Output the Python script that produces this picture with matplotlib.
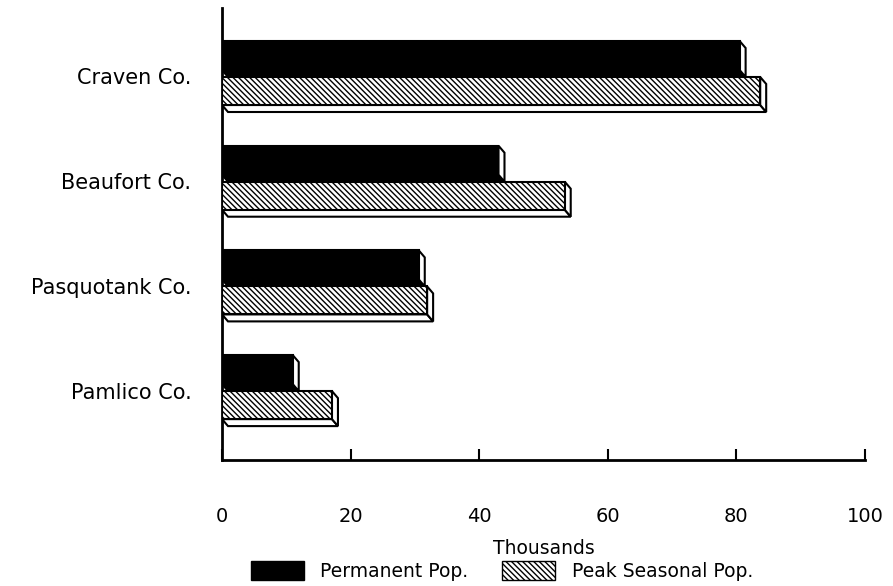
import matplotlib
matplotlib.use("Agg")
import matplotlib.pyplot as plt
from matplotlib.patches import Polygon, Patch
import matplotlib as mpl

categories = ["Craven Co.", "Beaufort Co.", "Pasquotank Co.", "Pamlico Co."]
permanent = [80.5, 43.0, 30.6, 11.0]
peak_seasonal = [83.7, 53.3, 31.9, 17.1]
xticks = [0, 20, 40, 60, 80, 100]
xlabel = "Thousands"
legend_labels = ["Permanent Pop.", "Peak Seasonal Pop."]

plt.rcParams['font.family'] = ['DejaVu Sans']
mpl.rcParams['hatch.linewidth'] = 1.0

W, H = 893, 586
fig = plt.figure(figsize=(W / 100, H / 100), dpi=100)
ax_l, ax_r, ax_t, ax_b = 222, 865, 8, 460
ax = fig.add_axes([ax_l / W, (H - ax_b) / H, (ax_r - ax_l) / W, (ax_b - ax_t) / H])

unit = 104.7
ax.set_xlim(0, 100)
ax.set_ylim((ax_b - ax_t) / unit, 0)

px_x = 100 / (ax_r - ax_l)
dx = 6 * px_x
dy = 7 / unit

first_top = (41 - ax_t) / unit
h_black = 29 / unit
peak_top_off = (77 - 41) / unit
h_peak = 28 / unit
HATCH = '\\\\\\\\\\\\'


def draw_bar(y_top, h, v, front_fc, hatch, bottom_fc, zorder):
    yb = y_top + h
    bottom = Polygon([(0, yb), (v, yb), (v + dx, yb + dy), (dx, yb + dy)],
                     closed=True, facecolor=bottom_fc, edgecolor='black',
                     linewidth=1.5, zorder=zorder)
    ax.add_patch(bottom)
    side = Polygon([(v, y_top), (v + dx, y_top + dy), (v + dx, yb + dy), (v, yb)],
                   closed=True, facecolor='white', edgecolor='black',
                   linewidth=1.5, zorder=zorder)
    ax.add_patch(side)
    ax.barh(y_top + h / 2, v, height=h, left=0, color=front_fc,
            edgecolor='black', hatch=hatch, linewidth=1.5, zorder=zorder + 0.5)


for i, cat in enumerate(categories):
    y0 = first_top + i
    draw_bar(y0, h_black, permanent[i], 'black', None, 'black', 2)
    draw_bar(y0 + peak_top_off, h_peak, peak_seasonal[i], 'white', HATCH, 'white', 3)

centers = [first_top + i + (peak_top_off + h_peak + dy) / 2 for i in range(len(categories))]
ax.set_yticks(centers)
ax.set_yticklabels(categories, fontsize=15)
ax.tick_params(axis='y', length=0, pad=22)

ax.set_xticks(xticks)
ax.set_xticklabels([str(t) for t in xticks], fontsize=14)
ax.tick_params(axis='x', direction='in', length=8, width=1.5, pad=34)
ax.set_xlabel(xlabel, fontsize=13.5, labelpad=9)

for s in ['top', 'right']:
    ax.spines[s].set_visible(False)
for s in ['left', 'bottom']:
    ax.spines[s].set_linewidth(2)

handles = [Patch(facecolor='black', edgecolor='black'),
           Patch(facecolor='white', edgecolor='black', hatch=HATCH)]
fig.legend(handles, legend_labels, loc='center', bbox_to_anchor=(502 / W, 1 - 571 / H),
           ncol=2, frameon=False, fontsize=13.5, handlelength=2.8, handleheight=1.2,
           columnspacing=1.8, handletextpad=0.9, borderaxespad=0, borderpad=0)

fig.savefig("out.png", dpi=100)
